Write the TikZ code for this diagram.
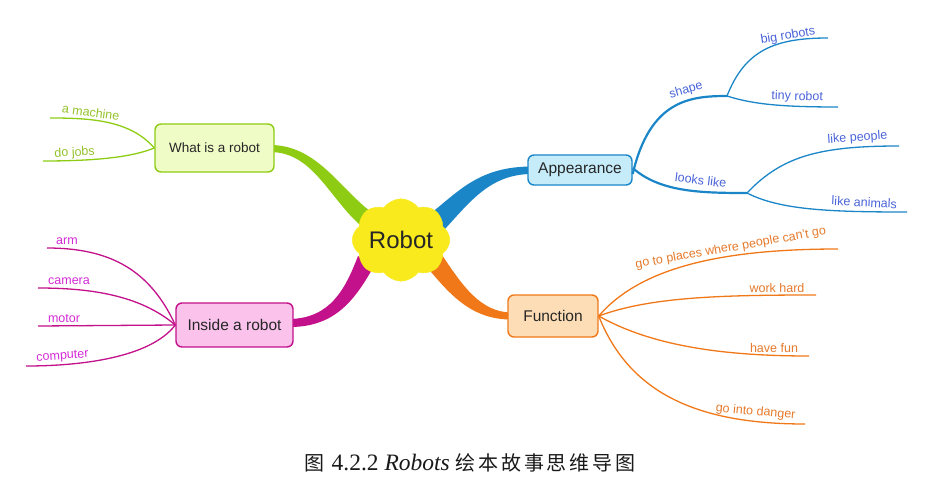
\documentclass[tikz,border=0pt]{standalone}
\usepackage{fontspec}
\setmainfont{Liberation Sans}
\newfontfamily\capserif{Liberation Serif}
\newfontfamily\cjk{Noto Sans CJK SC}
\usetikzlibrary{shapes.symbols}
\definecolor{bline}{HTML}{1A86C8}
\definecolor{btext}{HTML}{4A64D8}
\definecolor{bfill}{HTML}{C6ECFA}
\definecolor{oline}{HTML}{F07818}
\definecolor{otext}{HTML}{E47A2C}
\definecolor{ofill}{HTML}{FDDDB6}
\definecolor{gline}{HTML}{8ECC14}
\definecolor{gtext}{HTML}{94C22A}
\definecolor{gfill}{HTML}{F0FCC6}
\definecolor{mline}{HTML}{C2118A}
\definecolor{mtext}{HTML}{D42AD6}
\definecolor{mfill}{HTML}{FBC2EC}
\definecolor{cloudy}{HTML}{F8EA1C}
\tikzset{
  topicbox/.style={draw, rounded corners=6pt, line width=1.4pt, inner sep=0pt, text=black!85},
  leaf/.style={line width=1.3pt},
  twig/.style={line width=2.2pt},
  lbl/.style={inner sep=1pt, font=\fontsize{12.5}{14}\selectfont, anchor=south},
}
\begin{document}
\begin{tikzpicture}[x=1pt,y=-1pt]
\useasboundingbox (0,0) rectangle (941,497);
% tapered main connectors
\fill[gline] (270,145) .. controls (318,145) and (340,190) .. (374,214)
  -- (366,230) .. controls (330,202) and (315,152) .. (270,152) -- cycle;
\fill[bline] (532,166.5) .. controls (480,166.5) and (460,190) .. (430,214)
  -- (444,230) .. controls (470,202) and (490,174) .. (532,174) -- cycle;
\fill[oline] (440,252) .. controls (462,285) and (480,312.5) .. (512,312.5)
  -- (512,319.5) .. controls (470,320) and (448,292) .. (426,266) -- cycle;
\fill[mline] (290,319) .. controls (330,318) and (345,290) .. (358,256)
  -- (374,266) .. controls (355,300) and (335,327) .. (290,327) -- cycle;
% central cloud
\node[cloud, cloud puffs=8, cloud puff arc=110, aspect=1.3, fill=cloudy, draw=cloudy,
  minimum width=90pt, minimum height=68pt, inner sep=0pt,
  font=\fontsize{24}{28}\selectfont, text=black!85] (robot) at (401,240) {Robot};
% main topic boxes
\node[topicbox, draw=gline, fill=gfill, minimum width=119pt, minimum height=48pt,
  font=\fontsize{13.5}{16}\selectfont] (what) at (214.5,148) {What is a robot};
\node[topicbox, draw=bline, fill=bfill, minimum width=104pt, minimum height=30pt,
  font=\fontsize{15.5}{18}\selectfont] (app) at (580,170) {Appearance};
\node[topicbox, draw=oline, fill=ofill, minimum width=90pt, minimum height=42pt,
  font=\fontsize{15.5}{18}\selectfont] (func) at (553,316) {Function};
\node[topicbox, draw=mline, fill=mfill, minimum width=117pt, minimum height=44pt,
  font=\fontsize{15.5}{18}\selectfont] (inside) at (234.5,325) {Inside a robot};
% ---------- Appearance branches
\coordinate (shapeJ) at (727,96);
\coordinate (lookJ) at (747,193);
\coordinate (bigE) at (828,38);
\coordinate (tinyE) at (838,107);
\coordinate (peopleE) at (899,146);
\coordinate (animalsE) at (907,212);
\draw[bline, twig] ([yshift=-4pt]app.east) .. controls (650,100) and (690,96) .. (shapeJ);
\draw[bline, twig] ([yshift=2pt]app.east) .. controls (660,192) and (700,193) .. (lookJ);
\draw[bline, leaf] (shapeJ) .. controls (745,50) and (775,38) .. (bigE);
\draw[bline, leaf] (shapeJ) .. controls (752,104) and (780,107) .. (tinyE);
\draw[bline, leaf] (lookJ) .. controls (782,156) and (820,146) .. (peopleE);
\draw[bline, leaf] (lookJ) .. controls (780,210) and (830,212) .. (animalsE);
\node[lbl, text=btext, rotate=16] (tshape) at (688,97) {shape};
\node[lbl, text=btext, rotate=-7] (tlook) at (700,186) {looks like};
\node[lbl, text=btext, rotate=9] (tbig) at (789,43) {big robots};
\node[lbl, text=btext, rotate=-2] (ttiny) at (797,104) {tiny robot};
\node[lbl, text=btext, rotate=4] (tpeople) at (858,145) {like people};
\node[lbl, text=btext, rotate=-3] (tanimals) at (864,208) {like animals};
% ---------- Function branches
\coordinate (placesE) at (838,249);
\coordinate (hardE) at (816,295);
\coordinate (funE) at (809,356);
\coordinate (dangerE) at (805,424);
\draw[oline, leaf] (func.east) .. controls (640,268) and (720,249) .. (placesE);
\draw[oline, leaf] (func.east) .. controls (650,297) and (720,295) .. (hardE);
\draw[oline, leaf] (func.east) .. controls (650,345) and (720,356) .. (funE);
\draw[oline, leaf] (func.east) .. controls (630,395) and (700,424) .. (dangerE);
\node[lbl, text=otext, rotate=10] (tplaces) at (732,255) {go to places where people can't go};
\node[lbl, text=otext] (thard) at (777,294) {work hard};
\node[lbl, text=otext] (tfun) at (774,354) {have fun};
\node[lbl, text=otext, rotate=-5] (tdanger) at (755,419) {go into danger};
% ---------- What is a robot branches
\coordinate (machineE) at (50,118);
\coordinate (jobsE) at (43,161);
\draw[gline, leaf] (what.west) .. controls (130,120) and (90,118) .. (machineE);
\draw[gline, leaf] (what.west) .. controls (130,158) and (90,161) .. (jobsE);
\node[lbl, text=gtext, rotate=-8] (tmachine) at (90,118) {a machine};
\node[lbl, text=gtext, rotate=3] (tjobs) at (75,160) {do jobs};
% ---------- Inside a robot branches
\coordinate (armE) at (47,248);
\coordinate (cameraE) at (38,288);
\coordinate (motorE) at (38,326);
\coordinate (computerE) at (26,366);
\draw[mline, leaf] (inside.west) .. controls (150,270) and (110,248) .. (armE);
\draw[mline, leaf] (inside.west) .. controls (140,295) and (90,288) .. (cameraE);
\draw[mline, leaf] (inside.west) -- (motorE);
\draw[mline, leaf] (inside.west) .. controls (150,358) and (80,366) .. (computerE);
\node[lbl, text=mtext] (tarm) at (67,246) {arm};
\node[lbl, text=mtext] (tcamera) at (69,286) {camera};
\node[lbl, text=mtext] (tmotor) at (64,324) {motor};
\node[lbl, text=mtext, rotate=4] (tcomputer) at (63,363) {computer};
% caption
\node[text=black!90, inner sep=0pt] (caption) at (470,463)
  {{\cjk\fontsize{20}{24}\selectfont 图}\hspace{7pt}{\capserif\fontsize{23.5}{26}\selectfont 4.2.2 \itshape Robots}\hspace{6pt}{\cjk\fontsize{20}{24}\selectfont 绘\hspace{2.8pt}本\hspace{2.8pt}故\hspace{2.8pt}事\hspace{2.8pt}思\hspace{2.8pt}维\hspace{2.8pt}导\hspace{2.8pt}图}};
\end{tikzpicture}
\end{document}
